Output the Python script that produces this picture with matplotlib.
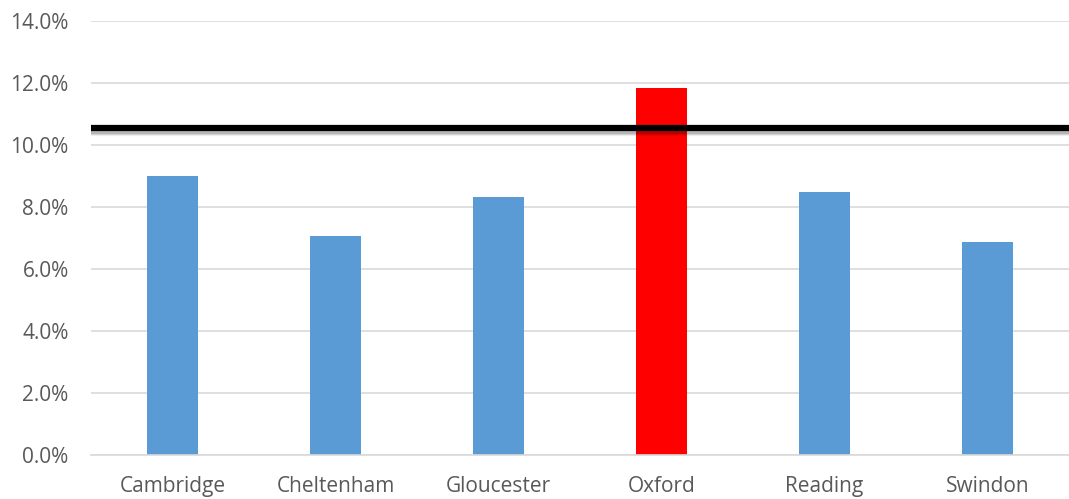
import matplotlib.pyplot as plt
import matplotlib.patheffects as pe
from matplotlib.ticker import PercentFormatter

towns = ["Cambridge", "Cheltenham", "Gloucester", "Oxford", "Reading", "Swindon"]
rates = [9.0, 7.08, 8.32, 11.84, 8.48, 6.87]
bar_colors = ["#5b9bd5", "#5b9bd5", "#5b9bd5", "#ff0000", "#5b9bd5", "#5b9bd5"]
threshold = 10.55

plt.rcParams["font.family"] = ["Open Sans", "DejaVu Sans"]

fig = plt.figure(figsize=(10.69, 4.99), dpi=100)
ax = fig.add_axes([0.085, 0.088, 0.915, 0.87])

x = list(range(len(towns)))
ax.bar(x, rates, width=0.31, color=bar_colors, zorder=2)

# soft drop shadow under the threshold line
shadow = [pe.SimpleLineShadow(offset=(0, -d), alpha=a, shadow_color="black")
          for d, a in [(4.0, 0.06), (3.0, 0.1), (2.0, 0.15)]]
ax.axhline(threshold, color="black", linewidth=4.5, zorder=3,
           path_effects=shadow + [pe.Normal()])

ax.set_xlim(-0.5, len(towns) - 0.5)
ax.set_ylim(0, 14)
ax.set_yticks([0, 2, 4, 6, 8, 10, 12, 14])
ax.yaxis.set_major_formatter(PercentFormatter(decimals=1))
ax.set_xticks(x)
ax.set_xticklabels(towns)

ax.grid(axis="y", color="#d9d9d9", linewidth=1.2, zorder=0)
ax.set_axisbelow(True)
for side in ["top", "right", "left"]:
    ax.spines[side].set_visible(False)
ax.spines["bottom"].set_color("#d9d9d9")
ax.spines["bottom"].set_linewidth(1.2)
ax.tick_params(axis="both", length=0, labelsize=15, colors="#595959")
ax.tick_params(axis="x", pad=15)
ax.tick_params(axis="y", pad=16)

fig.savefig("out.png", dpi=100)
